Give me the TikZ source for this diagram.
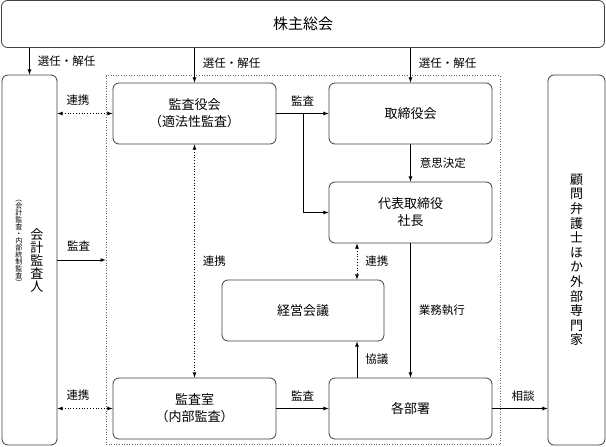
\documentclass[tikz,border=0pt]{standalone}
\usepackage{fontspec}
\setmainfont{Noto Sans CJK JP}
\tikzset{
  box/.style={draw=black!75, line width=0.8pt, rounded corners=6pt, align=center,
    font=\fontsize{13}{17}\selectfont},
  lbl/.style={inner sep=0pt, font=\fontsize{11.5}{13}\selectfont},
  arr/.style={draw=black, line width=0.8pt, ->, >=latex},
  link/.style={draw=black, line width=0.8pt, dotted, <->, >=latex},
}
\begin{document}
\begin{tikzpicture}[x=1pt,y=-1pt]
\useasboundingbox (0,0) rectangle (606,447);
\node[draw=black!60, line width=0.6pt, dotted, minimum width=394, minimum height=369] (frame) at (303,260) {};

\node[box, minimum width=603, minimum height=47, font=\fontsize{15}{18}\selectfont] (kabunushi) at (303,24) {株主総会};
\node[box, minimum width=55, minimum height=370] (kaikei) at (29.5,260) {};
\node[box, minimum width=57, minimum height=370, font=\fontsize{13}{14.6}\selectfont] (komon) at (576.5,260)
  {顧\\問\\弁\\護\\士\\ほ\\か\\外\\部\\専\\門\\家};
\node[box, minimum width=163, minimum height=61] (kansayaku) at (194.5,113.5) {監査役会\\（適法性監査）};
\node[box, minimum width=163, minimum height=61] (torishimari) at (410.5,113.5) {取締役会};
\node[box, minimum width=163, minimum height=61] (daihyo) at (410.5,212.5) {代表取締役\\社長};
\node[box, minimum width=162, minimum height=61] (keiei) at (303,310.5) {経営会議};
\node[box, minimum width=163, minimum height=61] (kansashitsu) at (194.5,408.5) {監査室\\（内部監査）};
\node[box, minimum width=163, minimum height=61] (kakubusho) at (410.5,408.5) {各部署};

\node[align=center, inner sep=0pt, font=\fontsize{13}{13}\selectfont] (kaikeiname) at (37,260.5) {会\\計\\監\\査\\人};
\node[align=center, inner sep=0pt, font={\fontsize{7}{7}\selectfont\lineskiplimit=-5pt\relax}] (kaikeinote) at (19,243) {︵\\会\\計\\監\\査\\・\\内\\部\\統\\制\\監\\査\\︶};

\coordinate (branch) at (303,113.5);
\coordinate (meet) at (357,0);

% selection and dismissal
\path[arr] (kabunushi.south -| kaikei.north) -- (kaikei.north) node[lbl, midway, right=8pt] {選任・解任};
\path[arr] (kabunushi.south -| kansayaku.north) -- (kansayaku.north) node[lbl, midway, right=8pt, yshift=2pt] {選任・解任};
\path[arr] (kabunushi.south -| torishimari.north) -- (torishimari.north) node[lbl, midway, right=8pt, yshift=2pt] {選任・解任};

% audit lines
\path[link] (kaikei.east |- kansayaku.west) -- (kansayaku.west) node[lbl, midway, above=8pt, xshift=-7pt] {連携};
\path[link] (kaikei.east |- kansashitsu.west) -- (kansashitsu.west) node[lbl, midway, above=8pt, xshift=-7pt] {連携};
\path[arr] (kaikei.east) -- (frame.west) node[lbl, midway, above=8pt, xshift=-3pt] {監査};
\path[arr] (kansayaku.east) -- (torishimari.west) node[lbl, midway, above=7pt] {監査};
\path[arr] (branch) |- (daihyo.west);
\path[link] (kansayaku.south) -- (kansashitsu.north) node[lbl, midway, right=8pt] {連携};
\path[arr] (kansashitsu.east) -- (kakubusho.west) node[lbl, midway, above=7pt] {監査};

% execution
\path[arr] (torishimari.south) -- (daihyo.north) node[lbl, midway, right=9pt] {意思決定};
\path[arr] (daihyo.south) -- (kakubusho.north) node[lbl, midway, right=8pt] {業務執行};
\path[link] (daihyo.south -| meet) -- (keiei.north -| meet) node[lbl, midway, right=8pt] {連携};
\path[arr] (kakubusho.north -| meet) -- (keiei.south -| meet) node[lbl, midway, right=8pt] {協議};
\path[arr] (kakubusho.east) -- (komon.west |- kakubusho.east) node[lbl, midway, above=7pt, xshift=3pt] {相談};
\end{tikzpicture}
\end{document}
